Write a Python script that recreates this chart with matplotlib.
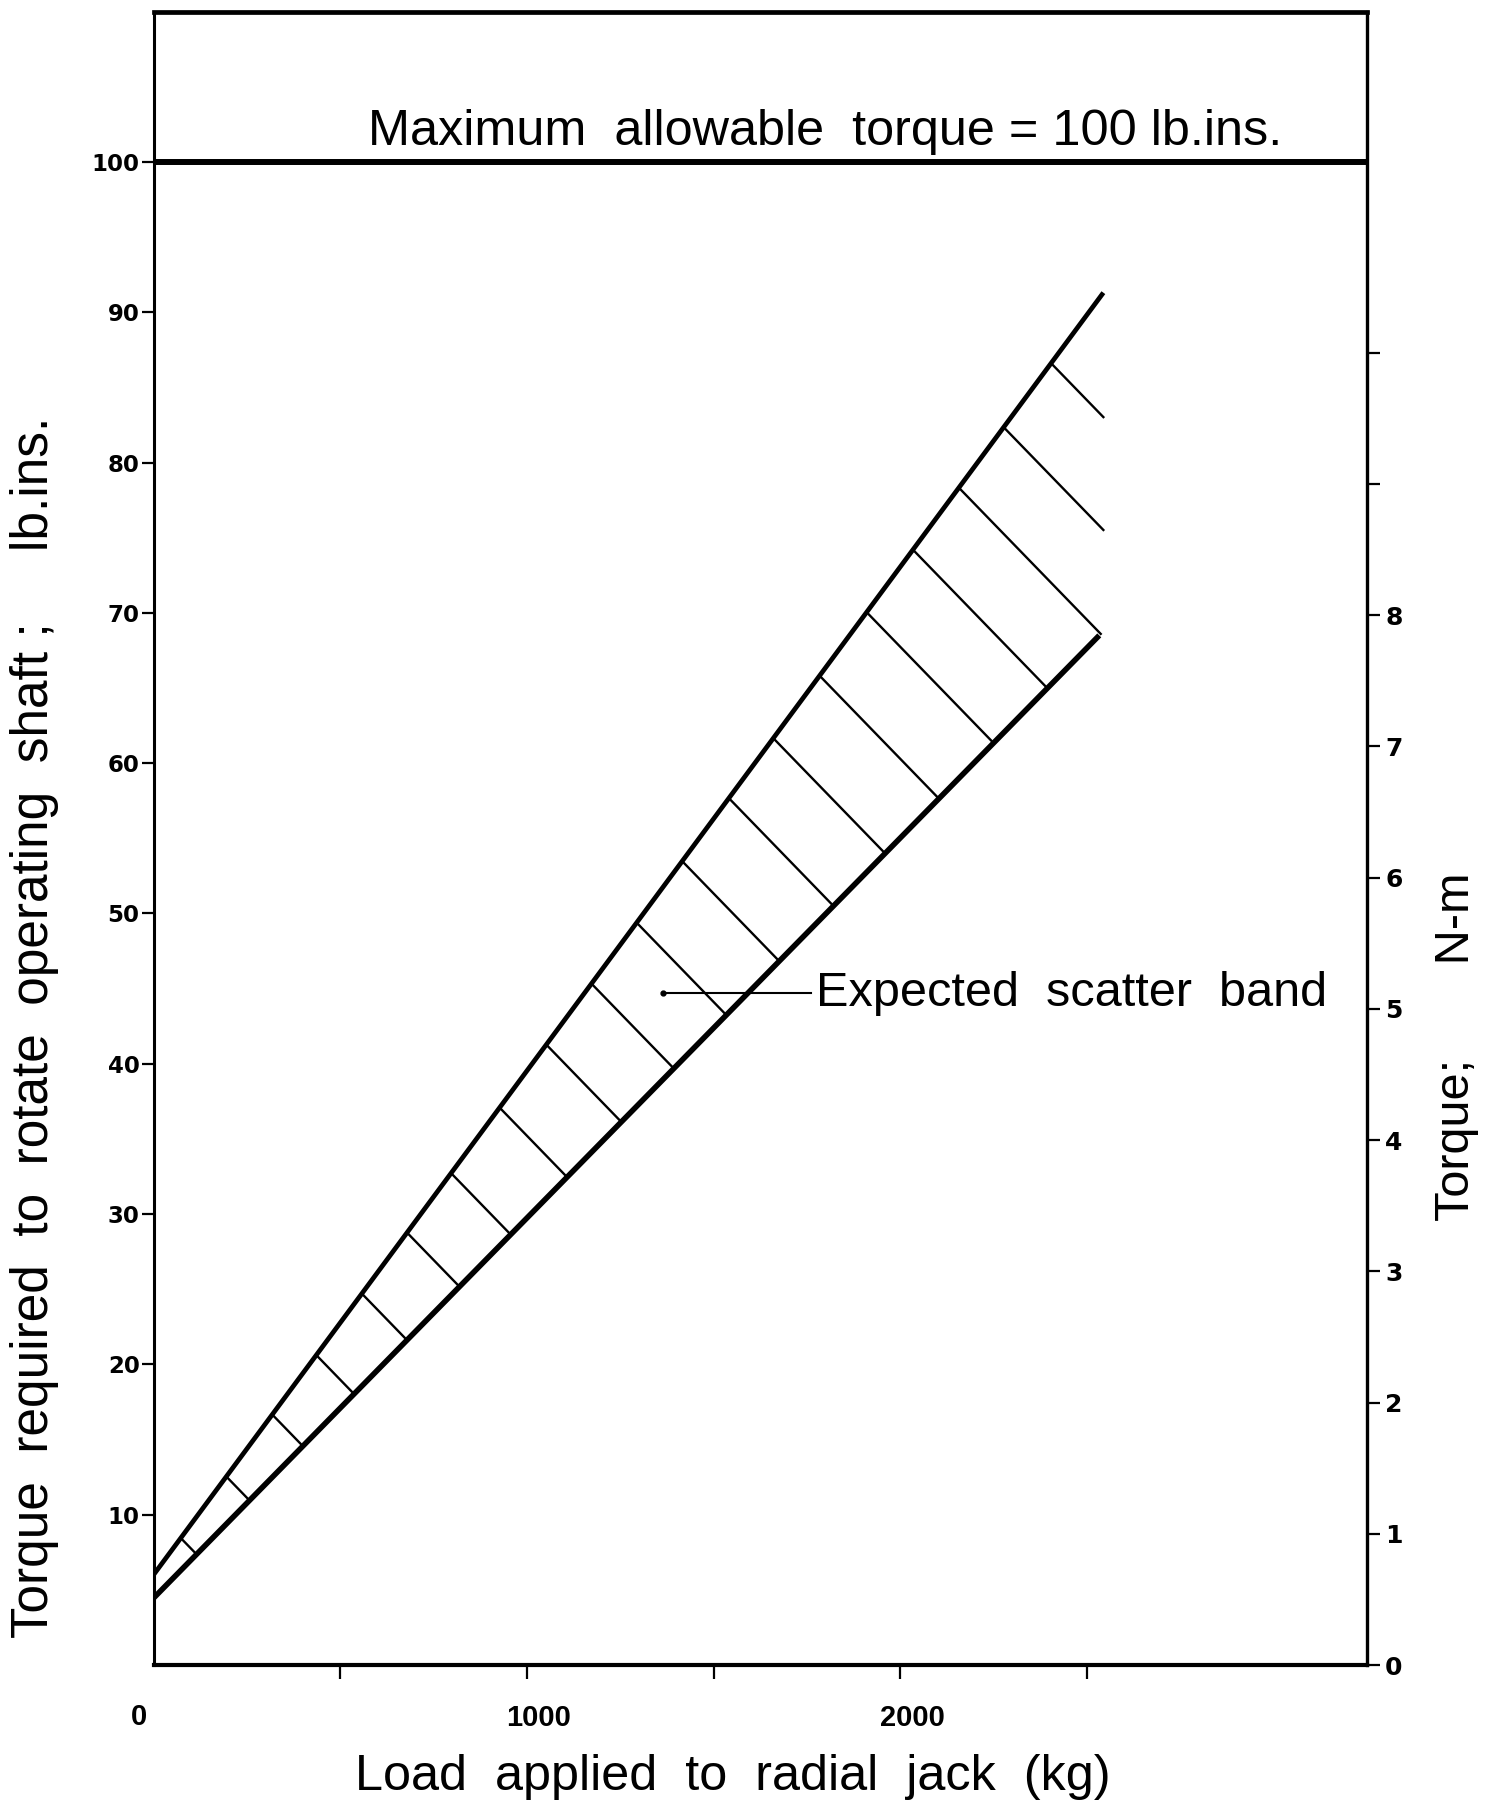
import matplotlib
matplotlib.use('Agg')
import matplotlib.pyplot as plt
import matplotlib.transforms as mtransforms
import numpy as np

plt.rcParams['font.family'] = ['Liberation Sans', 'DejaVu Sans']

# Valores (kg, lb.in)
band_load = [0, 2544]
upper_torque = [6.0, 91.3]
lower_load = [0, 2533]
lower_torque = [4.45, 68.5]

# Inicio de cada línea del rayado sobre el borde superior (kg)
hatch_start_load = [73, 195, 318, 436, 558, 679, 797, 927, 1052, 1173,
                    1294, 1416, 1541, 1660, 1784, 1910, 2034, 2157, 2277, 2404]
hatch_slope = -0.0256  # lb.in por kg

max_torque = 100
NM_TOP = 12.6  # escala derecha tal como aparece en la figura

y_ticks = [10, 20, 30, 40, 50, 60, 70, 80, 90, 100]
x_ticks = [500, 1000, 1500, 2000, 2500]
x_labels = ['', '1000', '', '2000', '']
nm_ticks = [0, 1, 2, 3, 4, 5, 6, 7, 8, 9, 10]
nm_labels = ['0', '1', '2', '3', '4', '5', '6', '7', '8', '', '']

annot_point = (1364, 44.7)
annot_text_load = 1774

fig = plt.figure(figsize=(14.92, 18.10), dpi=100)
ax = fig.add_axes([0.1029, 0.0801, 0.8133, 0.9135])
ax.set_xlim(0, 3250)
ax.set_ylim(0, 110)

# Banda de dispersión
ax.plot(band_load, upper_torque, color='black', lw=3.4, solid_capstyle='butt')
ax.plot(lower_load, lower_torque, color='black', lw=4.0, solid_capstyle='butt')

a = lower_torque[0]
b = (lower_torque[1] - lower_torque[0]) / (lower_load[1] - lower_load[0])
for xs in hatch_start_load:
    ys = np.interp(xs, band_load, upper_torque)
    xe = (ys - hatch_slope * xs - a) / (b - hatch_slope)
    xe = min(xe, band_load[1])
    ye = ys + hatch_slope * (xe - xs)
    ax.plot([xs, xe], [ys, ye], color='black', lw=1.7)

# Torque máximo admisible
ax.axhline(max_torque, color='black', lw=4.3)
ax.text(574, 101.1, 'Maximum  allowable  torque = 100 lb.ins.', fontsize=36.3,
        ha='left', va='baseline')

# Anotación
ax.plot([annot_point[0], annot_text_load - 14], [annot_point[1], annot_point[1]],
        color='black', lw=1.5)
ax.plot(annot_point[0], annot_point[1], 'o', color='black', ms=3.5)
ax.text(annot_text_load, annot_point[1], 'Expected  scatter  band', fontsize=35,
        ha='left', va='center')

# Ejes
for side, w in [('left', 2.2), ('bottom', 3.0), ('top', 3.4), ('right', 2.4)]:
    ax.spines[side].set_linewidth(w)

ax.set_yticks(y_ticks)
ax.set_yticklabels([str(v) for v in y_ticks], fontfamily='DejaVu Sans',
                   fontweight='bold', fontsize=16.5)
ax.tick_params(axis='y', direction='out', length=9, width=1.6, pad=1)

ax.set_xticks(x_ticks)
ax.set_xticklabels(x_labels, fontweight='bold', fontsize=21)
ax.tick_params(axis='x', direction='out', length=10, width=1.6, pad=18)
shift = mtransforms.ScaledTranslation(0.12, 0, fig.dpi_scale_trans)
for lbl in ax.get_xticklabels():
    lbl.set_transform(lbl.get_transform() + shift)
ax.text(-40, -3.45, '0', fontweight='bold', fontsize=21, ha='center', va='center')

ax2 = ax.twinx()
ax2.set_ylim(0, NM_TOP)
ax2.set_yticks(nm_ticks)
ax2.set_yticklabels(nm_labels, fontfamily='DejaVu Sans', fontweight='bold', fontsize=18)
ax2.tick_params(axis='y', direction='out', length=9, width=1.6, pad=4)
for side in ax2.spines:
    ax2.spines[side].set_visible(False)

fig.text(0.491, 0.0182, 'Load  applied  to  radial  jack  (kg)', fontsize=36.3,
         ha='center', va='center')
fig.text(0.0232, 0.4326, 'Torque  required  to  rotate  operating  shaft ;     lb.ins.',
         fontsize=37, rotation=90, ha='center', va='center')
fig.text(0.9763, 0.4215, 'Torque;       N-m', fontsize=35, rotation=90,
         ha='center', va='center')

fig.savefig('out.png', dpi=100)
